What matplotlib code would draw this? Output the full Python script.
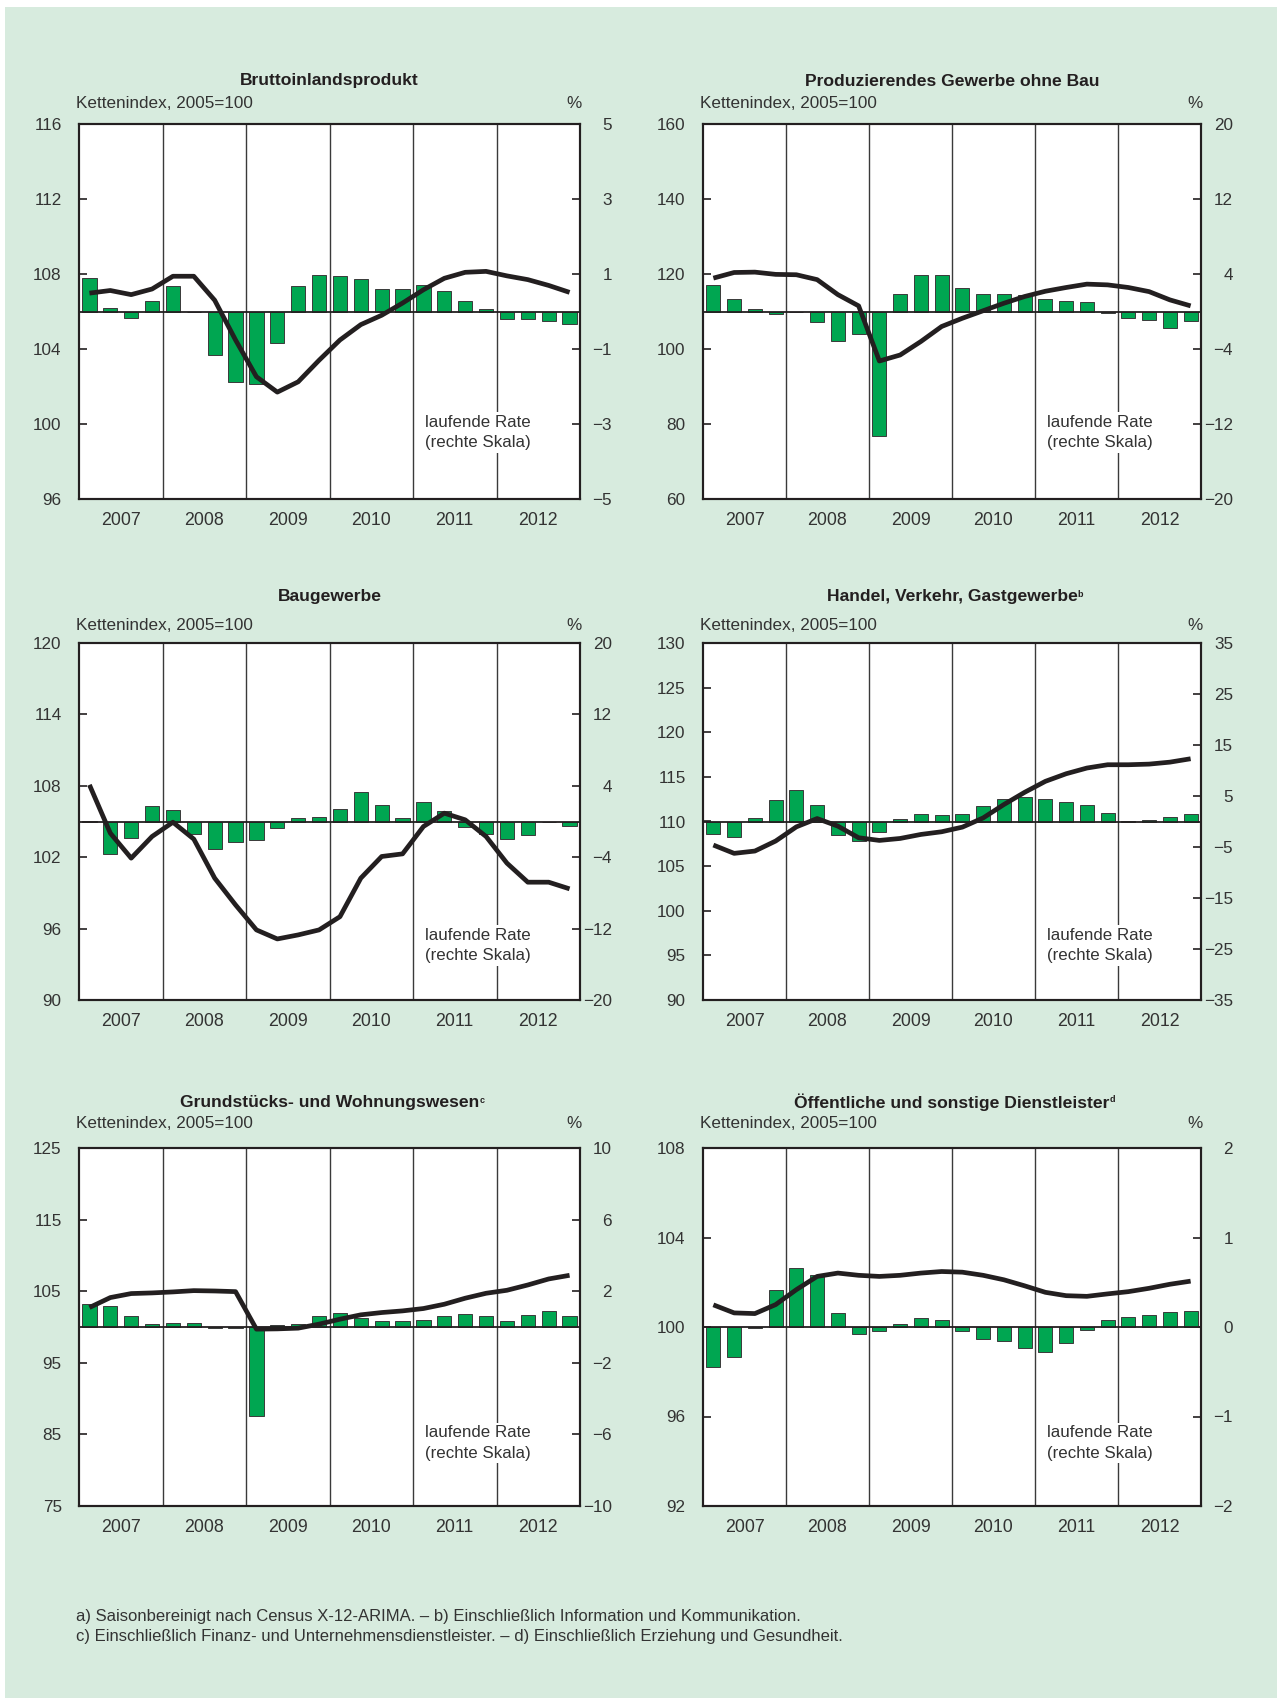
import matplotlib
matplotlib.use("Agg")
import matplotlib.pyplot as plt
from matplotlib.patches import Rectangle
import numpy as np

plt.rcParams['font.family'] = ['Liberation Sans', 'DejaVu Sans']

W, H = 1277, 1698
BG = '#d7ebde'
GREEN = '#00a651'
DARK = '#231f20'
TXT = '#333333'

years = ['2007', '2008', '2009', '2010', '2011', '2012']
n_q = 24

titles = ['Bruttoinlandsprodukt', 'Produzierendes Gewerbe ohne Bau', 'Baugewerbe',
          'Handel, Verkehr, Gastgewerbe', 'Grundstücks- und Wohnungswesen',
          'Öffentliche und sonstige Dienstleister']
title_sup = ['', '', '', 'b', 'c', 'd']

# Kettenindex (left scale)
idx_bip = [106.98, 107.12, 106.9, 107.2, 107.88, 107.88, 106.6, 104.48, 102.52, 101.7, 102.25, 103.4,
           104.48, 105.3, 105.8, 106.45, 107.16, 107.77, 108.09, 108.14, 107.9, 107.7, 107.39, 107.02]
idx_prod = [118.9, 120.4, 120.5, 119.9, 119.8, 118.5, 114.5, 111.5, 96.8, 98.4, 102.0, 106.0,
            108.2, 110.2, 112.2, 114.0, 115.4, 116.4, 117.3, 117.1, 116.4, 115.3, 113.1, 111.5]
idx_bau = [108.08, 104.02, 101.92, 103.74, 104.94, 103.52, 100.24, 97.99, 95.89, 95.13, 95.47, 95.89,
           97.0, 100.24, 102.06, 102.28, 104.58, 105.7, 105.14, 103.74, 101.5, 99.9, 99.9, 99.34]
idx_handel = [107.36, 106.43, 106.69, 107.81, 109.4, 110.33, 109.48, 108.18, 107.88, 108.1, 108.55, 108.85,
              109.37, 110.4, 111.9, 113.27, 114.5, 115.35, 115.99, 116.36, 116.36, 116.43, 116.65, 117.03]
idx_grund = [102.72, 104.11, 104.67, 104.76, 104.9, 105.08, 105.03, 104.94, 99.7, 99.74, 99.84, 100.4,
             101.09, 101.7, 102.02, 102.25, 102.58, 103.18, 104.02, 104.71, 105.13, 105.87, 106.71, 107.22]
idx_oeff = [100.99, 100.63, 100.6, 101.0, 101.67, 102.26, 102.41, 102.31, 102.26, 102.31, 102.41, 102.48,
            102.45, 102.31, 102.11, 101.84, 101.55, 101.4, 101.37, 101.48, 101.58, 101.73, 101.91, 102.05]

# laufende Rate in % (right scale)
rate_bip = [0.89, 0.09, -0.16, 0.27, 0.67, -0.02, -1.17, -1.89, -1.92, -0.83, 0.69, 0.98,
            0.95, 0.88, 0.60, 0.60, 0.72, 0.55, 0.29, 0.08, -0.21, -0.19, -0.26, -0.33]
rate_prod = [2.79, 1.32, 0.25, -0.29, -0.05, -1.1, -3.1, -2.43, -13.3, 1.82, 3.86, 3.86,
             2.46, 1.82, 1.89, 1.71, 1.36, 1.1, 1.0, -0.14, -0.64, -0.9, -1.79, -1.0]
rate_bau = [0.1, -3.66, -1.87, 1.76, 1.27, -1.35, -3.03, -2.32, -2.09, -0.71, 0.37, 0.49,
            1.35, 3.33, 1.83, 0.34, 2.24, 1.2, -0.64, -1.35, -1.98, -1.53, -0.05, -0.52]
rate_handel = [-2.43, -2.95, 0.75, 4.2, 6.2, 3.16, -2.56, -3.86, -1.97, 0.5, 1.53, 1.2,
               1.53, 3.1, 4.5, 4.9, 4.5, 3.9, 3.26, 1.7, 0.05, 0.35, 0.9, 1.4]
rate_grund = [1.27, 1.16, 0.59, 0.14, 0.2, 0.25, -0.06, -0.06, -4.97, 0.12, 0.16, 0.64,
              0.77, 0.49, 0.34, 0.34, 0.38, 0.64, 0.75, 0.6, 0.34, 0.66, 0.9, 0.64]
rate_oeff = [-0.45, -0.34, -0.01, 0.41, 0.66, 0.58, 0.16, -0.08, -0.05, 0.03, 0.1, 0.08,
             -0.05, -0.13, -0.16, -0.24, -0.28, -0.18, -0.03, 0.08, 0.11, 0.13, 0.17, 0.18]

left_ticks = [[96, 100, 104, 108, 112, 116], [60, 80, 100, 120, 140, 160], [90, 96, 102, 108, 114, 120],
              [90, 95, 100, 105, 110, 115, 120, 125, 130], [75, 85, 95, 105, 115, 125], [92, 96, 100, 104, 108]]
right_ticks = [[-5, -3, -1, 1, 3, 5], [-20, -12, -4, 4, 12, 20], [-20, -12, -4, 4, 12, 20],
               [-35, -25, -15, -5, 5, 15, 25, 35], [-10, -6, -2, 2, 6, 10], [-2, -1, 0, 1, 2]]

indices = [idx_bip, idx_prod, idx_bau, idx_handel, idx_grund, idx_oeff]
rates = [rate_bip, rate_prod, rate_bau, rate_handel, rate_grund, rate_oeff]

ylabel_left = 'Kettenindex, 2005=100'
ylabel_right = '%'
annot = 'laufende Rate\n(rechte Skala)'
footnotes = ['a) Saisonbereinigt nach Census X-12-ARIMA. – b) Einschließlich Information und Kommunikation.',
             'c) Einschließlich Finanz- und Unternehmensdienstleister. – d) Einschließlich Erziehung und Gesundheit.']

# layout in pixels
rows = [(124, 499), (643, 1000), (1148, 1506)]
cols = [(79, 580), (703, 1201)]
title_y = [81, 596, 1102]
klabel_y = [103, 625, 1124]
annot_y = [0.177, 0.152, 0.176]

fig = plt.figure(figsize=(W / 100, H / 100), dpi=100, facecolor='white')
fig.patches.append(Rectangle((5 / W, 0), 1 - 5 / W, 1 - 7 / H, transform=fig.transFigure,
                             facecolor=BG, edgecolor='none', zorder=-10))

def fx(px):
    return px / W

def fy(py):
    return 1 - py / H

x = np.arange(n_q)
for i in range(6):
    r, c = divmod(i, 2)
    (x0, x1), (y0, y1) = cols[c], rows[r]
    rect = [fx(x0), fy(y1), (x1 - x0) / W, (y1 - y0) / H]
    axr = fig.add_axes(rect)       # bars, right scale (bottom layer)
    axl = axr.twinx()              # index line, left scale (top layer)
    axl.set_zorder(axr.get_zorder() + 1)
    axl.patch.set_visible(False)
    axr.set_facecolor('white')

    axr.yaxis.tick_right()
    axl.yaxis.tick_left()

    rt = right_ticks[i]
    lt = left_ticks[i]
    axr.set_ylim(rt[0], rt[-1])
    axl.set_ylim(lt[0], lt[-1])
    axr.set_xlim(-0.5, n_q - 0.5)
    axl.set_xlim(-0.5, n_q - 0.5)

    axr.bar(x, rates[i], width=0.68, color=GREEN, edgecolor='#3a3a3a', linewidth=0.7, zorder=2)
    axr.axhline(0, color=DARK, lw=1.3, zorder=3)
    for b in range(4, n_q, 4):
        axr.axvline(b - 0.5, color='#3a3a3a', lw=1.0, zorder=1)

    axl.plot(x, indices[i], color=DARK, lw=3.4, solid_capstyle='butt', solid_joinstyle='round', zorder=5)

    axr.set_yticks(rt)
    axr.set_yticklabels([f'{v}'.replace('-', '\u2212') for v in rt])
    axl.set_yticks(lt)
    axr.tick_params(axis='y', direction='in', length=6, width=1.2, color=DARK, pad=23,
                    labelsize=12.3, labelcolor=TXT, right=True, left=False,
                    labelright=True, labelleft=False)
    for lab in axr.get_yticklabels():
        lab.set_horizontalalignment('right')
    axl.tick_params(axis='y', direction='in', length=6, width=1.2, color=DARK, pad=12.5,
                    labelsize=12.3, labelcolor=TXT, left=True, right=False,
                    labelleft=True, labelright=False)

    axr.set_xticks([k * 4 + 1.5 for k in range(6)])
    axr.set_xticklabels(years)
    axr.tick_params(axis='x', length=0, pad=9.5, labelsize=12.8, labelcolor=TXT)
    axl.tick_params(axis='x', bottom=False, labelbottom=False)

    for ax in (axr, axl):
        for s in ax.spines.values():
            s.set_color(DARK)
            s.set_linewidth(1.5)

    axr.text(0.69, annot_y[r], annot, transform=axr.transAxes, ha='left', va='center',
             fontsize=12.2, color=TXT, linespacing=1.45, zorder=4,
             bbox=dict(facecolor='white', edgecolor='none', pad=2))

    cx = (x0 + x1) / 2
    t = fig.text(fx(cx), fy(title_y[r]), titles[i], ha='center', va='center', fontsize=12.6,
                 fontweight='bold', color=DARK)
    if title_sup[i]:
        axl.annotate(title_sup[i], xy=(1.0, 0.92), xycoords=t, ha='left', va='top',
                     fontsize=6.5, fontweight='bold', color=DARK, annotation_clip=False)
    fig.text(fx(x0 - 3), fy(klabel_y[r]), ylabel_left, ha='left', va='center', fontsize=12.3, color=TXT)
    fig.text(fx(x1 + 2), fy(klabel_y[r]), ylabel_right, ha='right', va='center', fontsize=12.3, color=TXT)

fig.text(fx(76), fy(1616), footnotes[0], ha='left', va='center', fontsize=12, color=TXT)
fig.text(fx(76), fy(1637), footnotes[1], ha='left', va='center', fontsize=12, color=TXT)

fig.savefig('out.png', dpi=100, facecolor=fig.get_facecolor())
